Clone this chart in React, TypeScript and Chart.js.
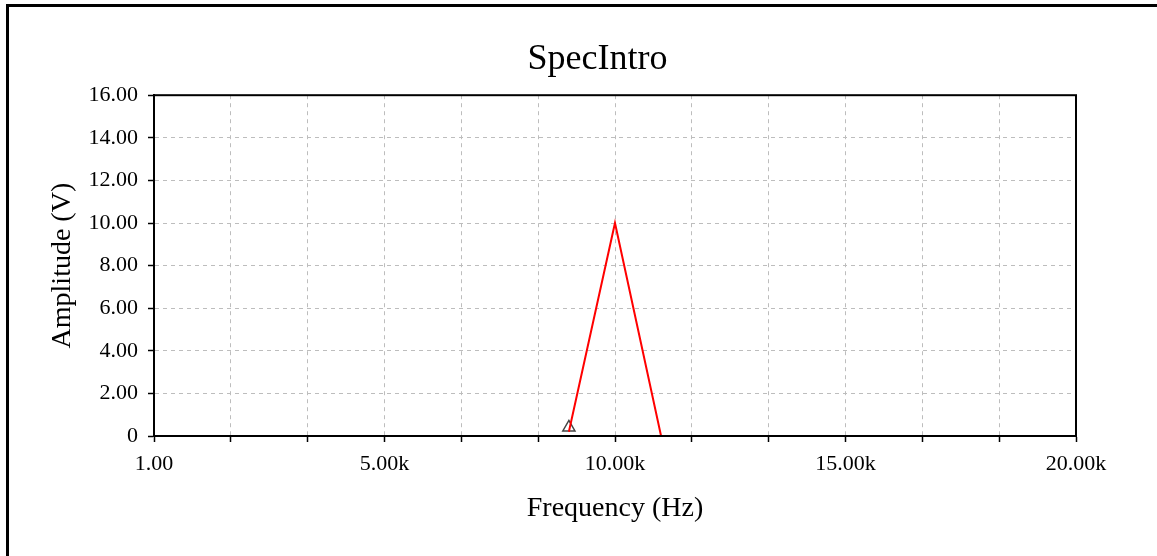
import React, { useEffect, useRef } from 'react';
import { Chart, registerables } from 'chart.js';

Chart.register(...registerables);

// ---- chart content ----
const chartTitle = 'SpecIntro';
const xAxisTitle = 'Frequency (Hz)';
const yAxisTitle = 'Amplitude (V)';

const xMin = 1;
const xMax = 20000;
const xGridIntervals = 12; // dashed grid lines, a label on every third
const xTickLabels = ['1.00', '5.00k', '10.00k', '15.00k', '20.00k'];

const yMin = 0;
const yMax = 16;
const yStep = 2;
const yTickLabels = ['0', '2.00', '4.00', '6.00', '8.00', '10.00', '12.00', '14.00', '16.00'];

// spectrum line (red)
const frequencyHz = [9000, 10000, 11000];
const amplitudeV = [0.2, 10, 0];

// cursor marker (small triangle)
const markerHz = [9000];
const markerV = [0.4];

const FONT = "'Liberation Serif', 'Times New Roman', serif";

const plotFrame = {
  id: 'plotFrame',
  afterDraw(chart: any) {
    const { ctx, chartArea } = chart;
    const { left, top, right, bottom } = chartArea;
    ctx.save();
    ctx.strokeStyle = '#000';
    ctx.lineWidth = 2;
    ctx.strokeRect(left, top, right - left, bottom - top);
    ctx.restore();
  },
};

export default function App() {
  const canvasRef = useRef<HTMLCanvasElement | null>(null);

  useEffect(() => {
    const canvas = canvasRef.current;
    if (!canvas) return;

    const lineData = frequencyHz.map((x, i) => ({ x, y: amplitudeV[i] }));
    const markerData = markerHz.map((x, i) => ({ x, y: markerV[i] }));

    const chart = new Chart(canvas, {
      type: 'line',
      data: {
        datasets: [
          {
            label: 'Spectrum',
            data: lineData,
            borderColor: '#ff0000',
            borderWidth: 2,
            pointRadius: 0,
            tension: 0,
            fill: false,
          },
          {
            label: 'Marker',
            data: markerData,
            showLine: false,
            pointStyle: 'triangle',
            pointRadius: 7,
            pointBorderWidth: 1.5,
            pointBorderColor: '#444444',
            pointBackgroundColor: 'rgba(0,0,0,0)',
          },
        ],
      },
      options: {
        animation: false,
        responsive: false,
        events: [],
        layout: { padding: { left: 38, right: 0, top: 0, bottom: 0 } },
        plugins: {
          legend: { display: false },
          tooltip: { enabled: false },
          title: {
            display: true,
            text: chartTitle,
            color: '#000',
            font: { family: FONT, size: 36, weight: 'normal' },
            padding: { top: 38, bottom: 14 },
          },
        },
        scales: {
          x: {
            type: 'linear',
            position: 'bottom',
            min: xMin,
            max: xMax,
            afterBuildTicks: (scale: any) => {
              const step = (xMax - xMin) / xGridIntervals;
              const t = [];
              for (let i = 0; i <= xGridIntervals; i++) t.push({ value: xMin + i * step });
              scale.ticks = t;
            },
            afterFit: (scale: any) => {
              scale.height = 120;
            },
            ticks: {
              autoSkip: false,
              maxRotation: 0,
              minRotation: 0,
              padding: 9,
              color: '#000',
              font: { family: FONT, size: 22 },
              callback: (_v: any, index: number) =>
                index % 3 === 0 ? xTickLabels[index / 3] : '',
            },
            grid: {
              color: '#bdbdbd',
              lineWidth: 1,
              tickColor: '#000',
              tickLength: 6,
              tickWidth: 1.5,
            },
            border: { display: true, color: '#000', width: 2, dash: [4, 4] },
            title: {
              display: true,
              text: xAxisTitle,
              color: '#000',
              font: { family: FONT, size: 28 },
              padding: { top: 0, bottom: 31 },
            },
          },
          y: {
            type: 'linear',
            position: 'left',
            min: yMin,
            max: yMax,
            afterFit: (scale: any) => {
              scale.width = 116;
            },
            ticks: {
              stepSize: yStep,
              padding: 10,
              color: '#000',
              font: { family: FONT, size: 22 },
              callback: (_v: any, index: number) => yTickLabels[index],
            },
            grid: {
              color: '#bdbdbd',
              lineWidth: 1,
              tickColor: '#000',
              tickLength: 6,
              tickWidth: 1.5,
            },
            border: { display: true, color: '#000', width: 2, dash: [4, 4] },
            title: {
              display: true,
              text: yAxisTitle,
              color: '#000',
              font: { family: FONT, size: 28 },
              padding: { top: 8, bottom: 0 },
            },
          },
          yRight: {
            type: 'linear',
            position: 'right',
            min: yMin,
            max: yMax,
            display: true,
            afterFit: (scale: any) => {
              scale.width = 81;
            },
            ticks: { display: false },
            grid: { display: false, drawTicks: false },
            border: { display: false },
            title: { display: false },
          },
        },
      },
      plugins: [plotFrame],
    } as any);

    return () => {
      chart.destroy();
    };
  }, []);

  return (
    <div
      style={{
        position: 'fixed',
        left: 0,
        top: 0,
        width: 1157,
        height: 556,
        background: '#fff',
        overflow: 'hidden',
      }}
    >
      <div
        style={{
          position: 'absolute',
          left: 6,
          top: 4,
          width: 1151,
          height: 552,
          borderTop: '3px solid #000',
          borderLeft: '3px solid #000',
          boxSizing: 'border-box',
        }}
      />
      <canvas
        ref={canvasRef}
        width={1157}
        height={556}
        style={{ position: 'absolute', left: 0, top: 0, width: 1157, height: 556 }}
      />
    </div>
  );
}
